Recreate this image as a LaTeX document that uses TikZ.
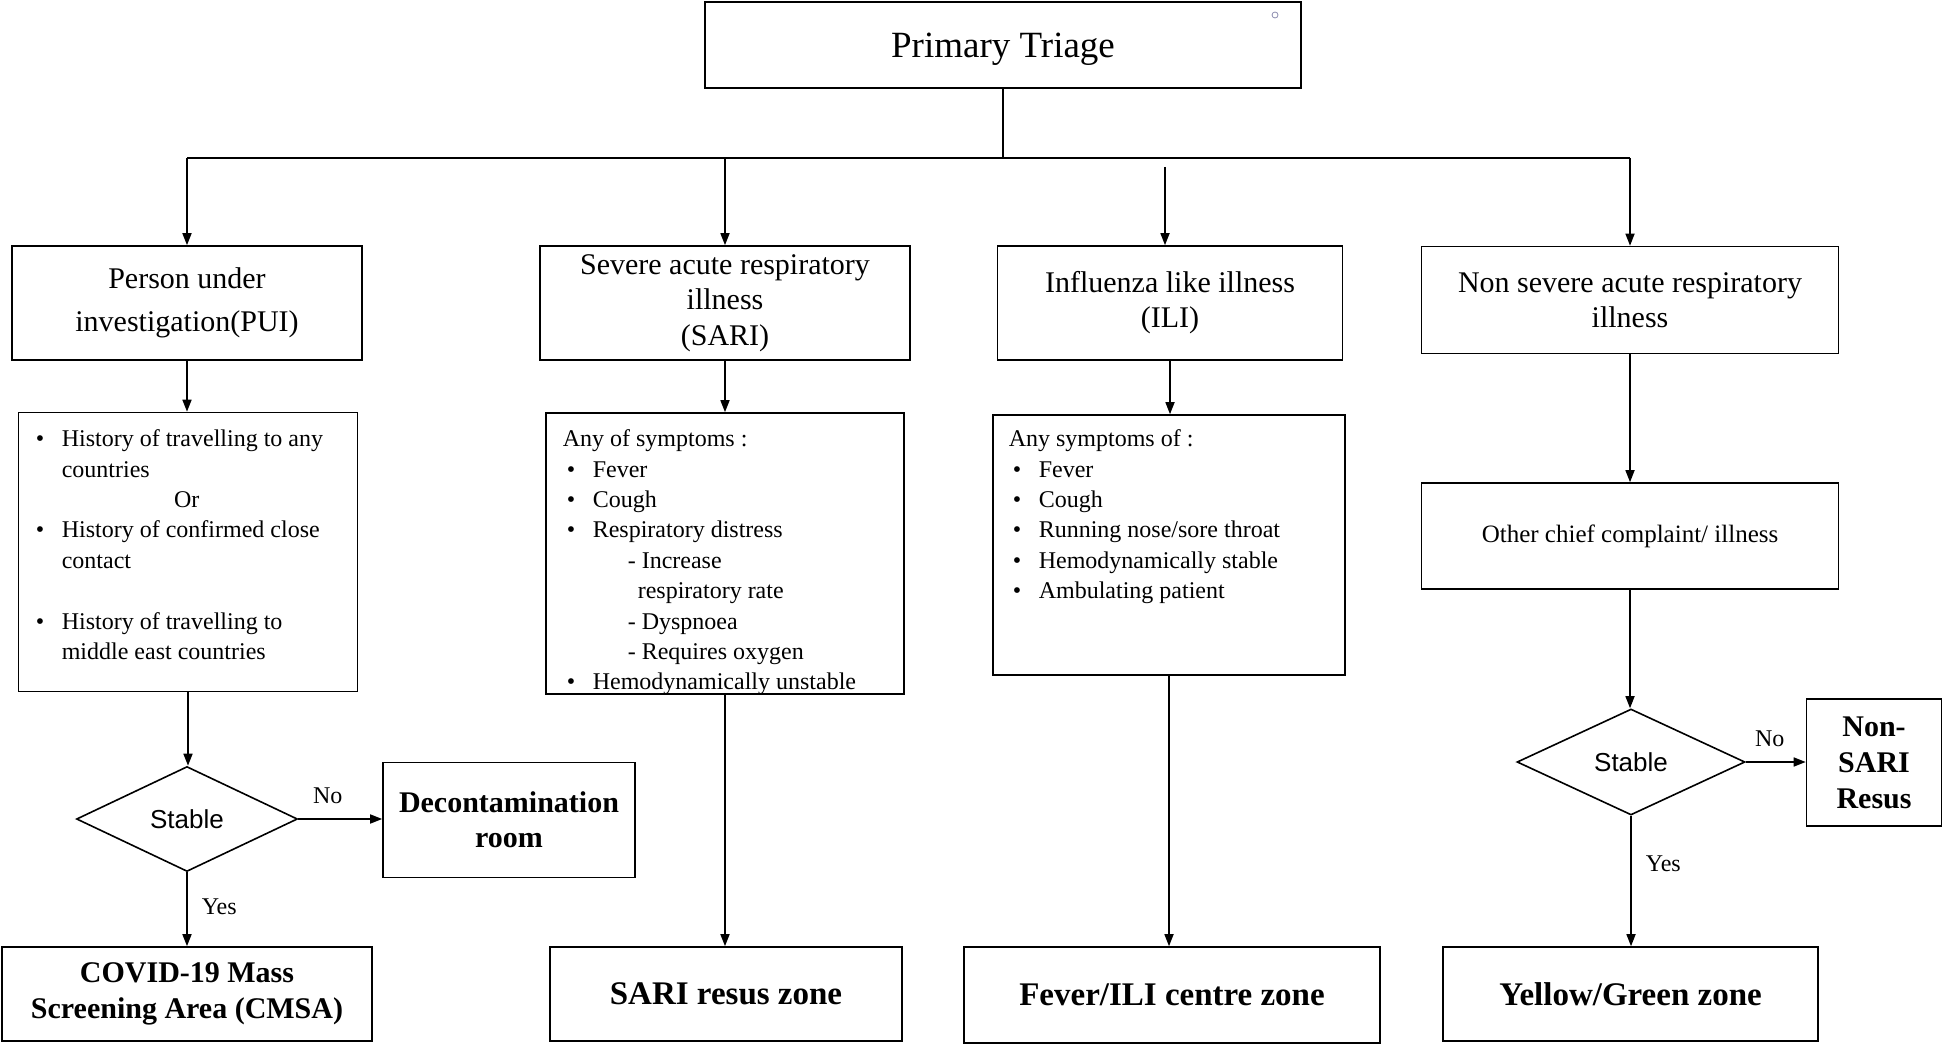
\documentclass[tikz,border=0pt]{standalone}
\usepackage{fontspec}
\setmainfont{Liberation Serif}
\setsansfont{Liberation Sans}
\usetikzlibrary{arrows.meta,shapes.geometric}

\newcommand{\bul}{\makebox[15pt][l]{\hspace{2pt}\textbullet}}
\newcommand{\hang}{\hspace*{15pt}}

\begin{document}
\begin{tikzpicture}[x=0.5pt, y=-0.5pt, >={Triangle[length=6pt,width=4.5pt]},
    line width=0.8pt,
    box/.style={draw, rectangle, inner sep=0pt, align=center},
    decide/.style={draw, diamond, inner sep=0pt, font=\sffamily\fontsize{13}{15}\selectfont},
    zone/.style={box, font=\bfseries\fontsize{16.5}{19}\selectfont},
    listtext/.style={anchor=north west, inner sep=0pt, align=left, font=\fontsize{12}{15.2}\selectfont},
    lbl/.style={inner sep=0pt, font=\fontsize{12}{14}\selectfont}]
    %% Background
    \useasboundingbox (0,0) rectangle (1946,1047);

    %% Top
    \node[box, minimum width=298pt, minimum height=43pt, text depth=0pt, font=\fontsize{18.5}{22}\selectfont] (triage) at (1003,45) {Primary Triage};
    \draw[line width=0.4pt, color={rgb,255:red,140;green,140;blue,175}] (1275,15) circle (3);

    %% Groups
    \node[box, minimum width=175pt, minimum height=57pt, font=\fontsize{15}{21.5}\selectfont] (pui) at (187,303) {Person under\\investigation(PUI)};
    \node[box, minimum width=185pt, minimum height=57pt, font=\fontsize{15}{17.7}\selectfont] (sari) at (725,303) {Severe acute respiratory\\illness\\(SARI)};
    \node[box, minimum width=172.5pt, minimum height=57pt, font=\fontsize{15}{17.5}\selectfont] (ili) at (1170,303) {Influenza like illness\\(ILI)};
    \node[box, minimum width=208.5pt, minimum height=53.5pt, font=\fontsize{15}{17.5}\selectfont] (nsari) at (1630,300) {Non severe acute respiratory\\illness};

    %% Criteria
    \node[box, minimum width=169.5pt, minimum height=139.5pt] (crit) at (188,552) {};
    \node[listtext] (crittext) at (31,429) {\bul History of travelling to any\\
        \hang countries\\
        \makebox[155pt]{Or}\\
        \bul History of confirmed close\\
        \hang contact\\[15.2pt]
        \bul History of travelling to\\
        \hang middle east countries};

    \node[box, minimum width=179pt, minimum height=140.5pt] (sympt) at (725,553.5) {};
    \node[listtext] (sympttext) at (562,429) {Any of symptoms :\\
        \bul Fever\\
        \bul Cough\\
        \bul Respiratory distress\\
        \hspace*{32.5pt}- Increase\\
        \hspace*{37.5pt}respiratory rate\\
        \hspace*{32.5pt}- Dyspnoea\\
        \hspace*{32.5pt}- Requires oxygen\\
        \bul Hemodynamically unstable};

    \node[box, minimum width=176pt, minimum height=130pt] (ilisym) at (1169,545) {};
    \node[listtext] (ilitext) at (1008,429) {Any symptoms of :\\
        \bul Fever\\
        \bul Cough\\
        \bul Running nose/sore throat\\
        \bul Hemodynamically stable\\
        \bul Ambulating patient};

    \node[box, minimum width=208.5pt, minimum height=53pt, font=\fontsize{12.5}{15}\selectfont] (other) at (1630,536) {Other chief complaint/ illness};

    %% Decisions
    \node[decide, minimum width=110.5pt, minimum height=52.5pt] (stabA) at (187,819) {Stable};
    \node[decide, minimum width=114pt, minimum height=53pt] (stabB) at (1631,762) {Stable};
    \node[box, minimum width=126pt, minimum height=57.5pt, font=\bfseries\fontsize{15}{17.5}\selectfont] (decon) at (509,820) {Decontamination\\room};
    \node[box, minimum width=67.5pt, minimum height=63.5pt, font=\bfseries\fontsize{15}{18}\selectfont] (nonsari) at (1874,762.5) {Non-\\SARI\\Resus};

    %% Zones
    \node[box, minimum width=185pt, minimum height=47pt, font=\bfseries\fontsize{15}{18}\selectfont] (cmsa) at (187,994) {COVID-19 Mass\\Screening Area (CMSA)};
    \node[zone, minimum width=176pt, minimum height=47pt] (sarizone) at (726,994) {SARI resus zone};
    \node[zone, minimum width=208pt, minimum height=48pt] (fever) at (1172,995) {Fever/ILI centre zone};
    \node[zone, minimum width=187.5pt, minimum height=47pt] (yellow) at (1630.5,994) {Yellow/Green zone};

    %% Connectors
    \coordinate (bus) at (1001,158);
    \path (ili.north |- bus) ++(-5,9) coordinate (ilitop);
    \draw (triage.south) -- (triage.south |- bus);
    \draw (pui.north |- bus) -- (nsari.north |- bus);
    \draw[->] (pui.north |- bus) -- (pui.north);
    \draw[->] (sari.north |- bus) -- (sari.north);
    \draw[->] (ilitop) -- (ilitop |- ili.north);
    \draw[->] (nsari.north |- bus) -- (nsari.north);

    \draw[->] (pui.south) -- (pui.south |- crit.north);
    \draw[->] (sari.south) -- (sari.south |- sympt.north);
    \draw[->] (ili.south) -- (ili.south |- ilisym.north);
    \draw[->] (nsari.south) -- (nsari.south |- other.north);

    \draw[->] (crit.south) -- (crit.south |- stabA.north);
    \draw[->] (stabA.south) -- node[lbl, right=7pt, pos=0.47] {Yes} (stabA.south |- cmsa.north);
    \draw[->] (stabA.east) -- node[lbl, above=7pt, pos=0.35] {No} (stabA.east -| decon.west);
    \draw[->] (sympt.south) -- (sympt.south |- sarizone.north);
    \draw[->] (ilisym.south) -- (ilisym.south |- fever.north);
    \draw[->] (other.south) -- (other.south |- stabB.north);
    \draw[->] (stabB.east) -- node[lbl, above=7pt, pos=0.4] {No} (stabB.east -| nonsari.west);
    \draw[->] (stabB.south) -- node[lbl, right=7pt, pos=0.37] {Yes} (stabB.south |- yellow.north);
\end{tikzpicture}
\end{document}
